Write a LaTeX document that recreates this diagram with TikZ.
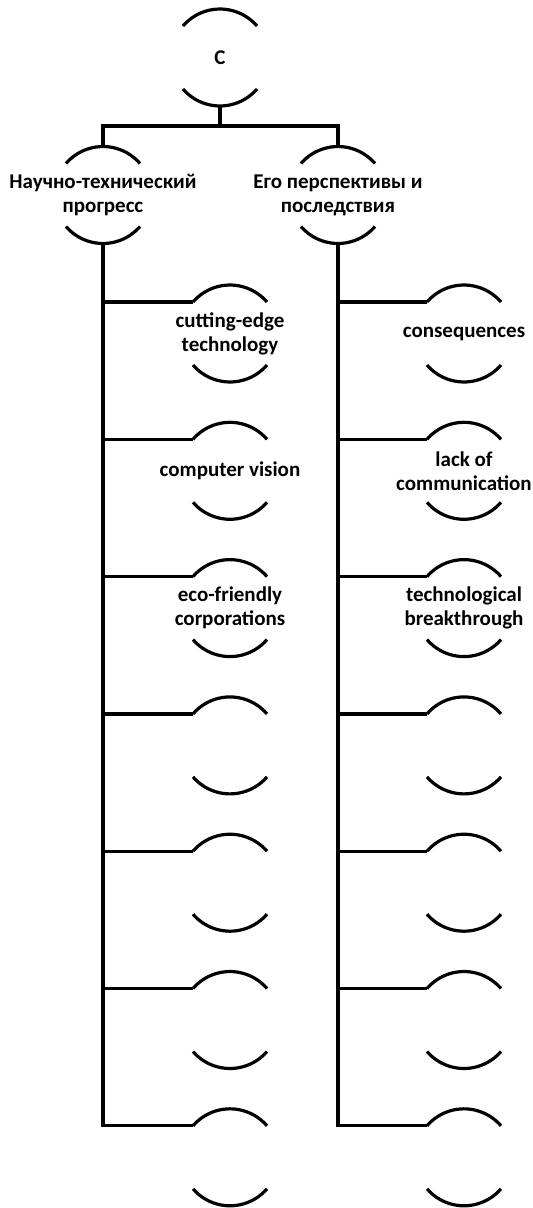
\documentclass[tikz,border=0pt]{standalone}
\usepackage{fontspec}
\setmainfont{Carlito}
\usetikzlibrary{calc}
\tikzset{
  conn/.style={line width=3.2pt},
  arcline/.style={line width=3.2pt},
  bow/.style={inner sep=0pt, align=center, font=\bfseries\fontsize{21}{24}\selectfont},
}
\newcommand\bowarcs[1]{%
  \draw[arcline] ($(#1.center)+(-37pt,31.5pt)$) arc[start angle=139.3, end angle=40.7, radius=48.8pt];
  \draw[arcline] ($(#1.center)+(-37pt,-31.5pt)$) arc[start angle=220.7, end angle=319.3, radius=48.8pt];
  \coordinate (#1-top) at ($(#1.center)+(0pt,48.5pt)$);
  \coordinate (#1-bot) at ($(#1.center)+(0pt,-48.5pt)$);
  \coordinate (#1-tl) at ($(#1.center)+(-37pt,31.5pt)$);
}
\begin{document}
\begin{tikzpicture}[x=1pt,y=1pt]
\useasboundingbox (0,-1208) rectangle (533,0);
\node[bow] (T) at (220,-57.5) {C};
\node[bow] (L) at (103,-195) {Научно-технический\\прогресс};
\node[bow] (R) at (338,-195) {Его перспективы и\\последствия};
\bowarcs{T}\bowarcs{L}\bowarcs{R}
\coordinate (J) at (220,-126);
\draw[conn] (T-bot) -- (J);
\draw[conn] (L-top) |- (J) -| (R-top);
% children
\node[bow] (l1) at (230,-333.5) {cutting-edge\\technology};
\node[bow] (l2) at (230,-470.8) {computer vision};
\node[bow] (l3) at (230,-608.1) {eco-friendly\\corporations};
\node[bow] (r1) at (464,-333.5) {consequences};
\node[bow] (r2) at (464,-470.8) {lack of\\communication};
\node[bow] (r3) at (464,-608.1) {technological\\breakthrough};
\foreach \i in {4,...,7}{
  \node[bow] (l\i) at (230,{-333.5-137.3*(\i-1)}) {};
  \node[bow] (r\i) at (464,{-333.5-137.3*(\i-1)}) {};
}
\foreach \i in {1,...,7}{
  \bowarcs{l\i}\bowarcs{r\i}
}
\foreach \i in {1,...,6}{
  \draw[conn] (L-bot |- l\i-tl) -- (l\i-tl);
  \draw[conn] (R-bot |- r\i-tl) -- (r\i-tl);
}
\draw[conn] (L-bot) |- (l7-tl);
\draw[conn] (R-bot) |- (r7-tl);
\end{tikzpicture}
\end{document}
